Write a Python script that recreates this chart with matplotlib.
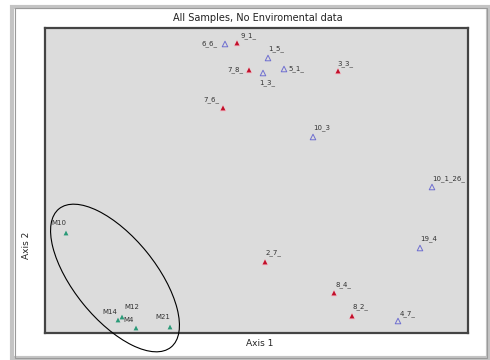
import matplotlib
matplotlib.use("Agg")
import matplotlib.pyplot as plt
from matplotlib.patches import Ellipse, Rectangle

# ordination scores (axis units)
red_names = ["9_1_", "7_8_", "3_3_", "7_6_", "2_7_", "8_4_", "8_2_"]
red_x = [192, 204, 293, 178, 220, 289, 307]
red_y = [290, 263, 262, 225, 71, 40, 17]

blue_names = ["6_6_", "1_5_", "1_3_", "5_1_", "10_3", "10_1_26_", "19_4", "4_7_"]
blue_x = [180, 223, 218, 239, 268, 387, 375, 353]
blue_y = [289, 275, 260, 264, 196, 146, 85, 12]

green_names = ["M10", "M14", "M12", "M4", "M21"]
green_x = [21, 73, 77, 91, 125]
green_y = [100, 13, 16, 5, 6]

# label offsets in points (dx, dy)
red_off = [(8, 5), (-10, 0), (5, 5), (-8, 6), (6, 7), (7, 6), (6, 7)]
blue_off = [(-11, 0), (6, 7), (3, -7), (9, 0), (6, 7), (12, 6), (6, 7), (7, 5)]
green_off = [(-5, 7), (-6, 6), (7, 7), (-5, 6), (-5, 7)]

fig = plt.figure(figsize=(4.9, 3.6), dpi=100)
fig.patch.set_facecolor("white")

# panel with soft shadow border
fig.patches.append(Rectangle((12 / 490, 2 / 360), 476 / 490, 351 / 360,
                             transform=fig.transFigure, fill=False,
                             edgecolor="#c4c4c4", lw=3))
fig.patches.append(Rectangle((15 / 490, 2 / 360), 472 / 490, 350 / 360,
                             transform=fig.transFigure, fill=False,
                             edgecolor="#9a9a9a", lw=0.8))

ax = fig.add_axes([45 / 490, 27 / 360, 423 / 490, 305 / 360])
ax.set_facecolor("#dcdcdc")
ax.set_xlim(0, 423)
ax.set_ylim(0, 305)
ax.set_xticks([])
ax.set_yticks([])
for s in ax.spines.values():
    s.set_color("#444444")
    s.set_linewidth(1.6)

ax.scatter(red_x, red_y, marker="^", s=22, color="#f4b8c4", edgecolors="none", zorder=2)
ax.scatter(red_x, red_y, marker="^", s=12, color="#c0102a", edgecolors="none", zorder=3)
ax.scatter(blue_x, blue_y, marker="^", s=16, facecolors="none",
           edgecolors="#6f6fd0", linewidths=0.7, zorder=3)
ax.scatter(green_x, green_y, marker="^", s=12, color="#2a9a78", edgecolors="none", zorder=3)

for names, xs, ys, offs in [(red_names, red_x, red_y, red_off),
                            (blue_names, blue_x, blue_y, blue_off),
                            (green_names, green_x, green_y, green_off)]:
    for n, x, y, (dx, dy) in zip(names, xs, ys, offs):
        ax.annotate(n, (x, y), xytext=(dx, dy), textcoords="offset points",
                    ha="center", va="center", fontsize=5, color="#333333")

# hand drawn ellipse round the M samples
ell = Ellipse((70, 55), 178, 82, angle=-51, fill=False, edgecolor="black",
              lw=0.8, clip_on=False, zorder=4)
ax.add_patch(ell)

fig.text(258 / 490, 1 - 18 / 360, "All Samples, No Enviromental data",
         ha="center", va="center", fontsize=7, color="#222222")
fig.text(260 / 490, 1 - 344 / 360, "Axis 1", ha="center", va="center",
         fontsize=6.5, color="#222222")
fig.text(26 / 490, 1 - 245 / 360, "Axis 2", ha="center", va="center",
         fontsize=6.5, rotation=90, color="#222222")

fig.savefig("out.png", dpi=100)
